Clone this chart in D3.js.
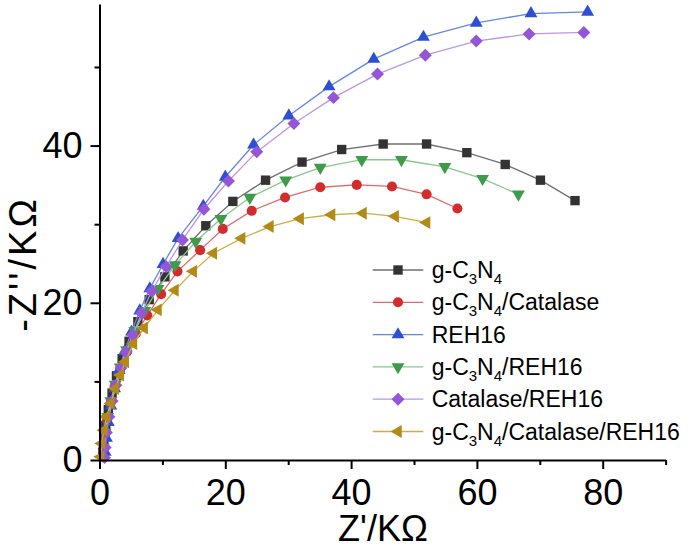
<!DOCTYPE html>
<html>
<head>
<meta charset="utf-8">
<script src="https://cdn.jsdelivr.net/npm/d3@7"></script>
<style>
  html, body { margin: 0; padding: 0; background: #fff; }
  svg { display: block; font-family: "Liberation Sans", Arial, sans-serif; }
</style>
</head>
<body>
<svg id="chart" width="692" height="549"></svg>
<script>
// ---- data ----
const seriesNames = ["g-C3N4", "g-C3N4/Catalase", "REH16", "g-C3N4/REH16", "Catalase/REH16", "g-C3N4/Catalase/REH16"];

const gc3n4X = [0.5, 0.7, 1.0, 1.4, 2.0, 2.7, 3.6, 4.7, 6.1, 7.9, 10.4, 13.3, 16.9, 21.2, 26.4, 32.2, 38.5, 45.1, 52.0, 58.4, 64.5, 70.1, 75.6];
const gc3n4Y = [1.0, 2.6, 4.4, 6.4, 8.5, 10.7, 12.9, 15.1, 17.6, 20.4, 23.3, 26.6, 29.8, 32.9, 35.6, 37.9, 39.5, 40.2, 40.2, 39.1, 37.6, 35.6, 33.0];

const catX = [0.6, 0.8, 1.2, 1.7, 2.4, 3.3, 4.4, 5.8, 7.6, 9.8, 12.4, 16.0, 19.6, 24.2, 29.5, 35.1, 40.9, 46.5, 52.0, 56.9];
const catY = [1.2, 3.0, 5.0, 7.1, 9.3, 11.5, 13.8, 16.1, 18.4, 21.1, 24.0, 26.7, 29.4, 31.7, 33.4, 34.7, 35.0, 34.8, 33.8, 32.0];

const rehX = [0.9, 1.1, 1.4, 1.8, 2.4, 3.1, 4.0, 5.1, 6.4, 8.0, 10.1, 12.5, 16.5, 20.0, 24.5, 30.1, 36.5, 43.6, 51.5, 59.9, 68.6, 77.6];
const rehY = [1.0, 2.8, 4.8, 6.9, 9.1, 11.4, 13.8, 16.3, 19.0, 21.8, 24.9, 28.2, 32.3, 36.0, 40.1, 43.8, 47.5, 51.0, 53.8, 55.6, 56.8, 57.0];

const gRehX = [0.6, 0.9, 1.3, 1.8, 2.5, 3.3, 4.3, 5.6, 7.2, 9.3, 12.0, 15.3, 19.3, 23.9, 29.6, 35.1, 41.7, 48.0, 54.9, 60.9, 66.6];
const gRehY = [1.6, 3.5, 5.5, 7.5, 9.6, 11.8, 14.0, 16.4, 19.0, 21.8, 24.8, 27.8, 30.7, 33.4, 35.6, 37.2, 38.2, 38.2, 37.3, 35.8, 33.8];

const catRehX = [0.8, 0.9, 1.1, 1.5, 2.0, 2.6, 3.4, 4.2, 5.3, 6.7, 8.3, 10.6, 13.2, 16.6, 20.5, 25.0, 30.9, 37.2, 44.2, 51.8, 59.9, 68.3, 77.0];
const catRehY = [0.3, 1.6, 3.5, 5.5, 7.5, 9.5, 11.7, 13.7, 15.9, 18.7, 21.5, 24.6, 28.0, 31.9, 35.5, 39.2, 42.8, 46.1, 49.1, 51.5, 53.3, 54.2, 54.4];

const allX = [0.2, 0.35, 0.7, 1.1, 1.8, 2.5, 3.3, 4.1, 5.4, 7.1, 9.3, 12.0, 14.9, 18.1, 22.6, 27.1, 31.9, 36.9, 41.9, 47.0, 52.0];
const allY = [0.4, 2.1, 3.8, 5.5, 7.2, 9.1, 10.8, 12.5, 14.8, 16.8, 19.1, 21.6, 24.0, 26.3, 28.2, 29.7, 30.7, 31.2, 31.4, 31.0, 30.2];

const xTicks = [0, 20, 40, 60, 80];
const xMinorTicks = [10, 30, 50, 70, 90];
const yTicks = [0, 20, 40];
const yMinorTicks = [10, 30, 50];

// ---- styles ----
const series = [
  { name: seriesNames[0], xs: gc3n4X, ys: gc3n4Y, marker: "square",  color: "#333333", line: "#707070" },
  { name: seriesNames[1], xs: catX,   ys: catY,   marker: "circle",  color: "#d12d2d", line: "#e06a6a" },
  { name: seriesNames[2], xs: rehX,   ys: rehY,   marker: "up",      color: "#2c4fd6", line: "#6486e6" },
  { name: seriesNames[3], xs: gRehX,  ys: gRehY,  marker: "down",    color: "#3f9b4a", line: "#86c98a" },
  { name: seriesNames[4], xs: catRehX,ys: catRehY,marker: "diamond", color: "#9456d6", line: "#bb97e8" },
  { name: seriesNames[5], xs: allX,   ys: allY,   marker: "left",    color: "#b38a16", line: "#cfad45" }
];

const svg = d3.select("#chart");
const x = d3.scaleLinear().domain([0, 90]).range([99.5, 665.6]);
const y = d3.scaleLinear().domain([0, 58]).range([460, 4.1]);

function markerPath(type) {
  switch (type) {
    case "square":  return { d: d3.symbol(d3.symbolSquare, 88)(), rot: 0 };
    case "circle":  return { d: d3.symbol(d3.symbolCircle, 80)(), rot: 0 };
    case "up":      return { d: d3.symbol(d3.symbolTriangle, 72)(), rot: 0 };
    case "down":    return { d: d3.symbol(d3.symbolTriangle, 72)(), rot: 180 };
    case "left":    return { d: d3.symbol(d3.symbolTriangle, 72)(), rot: -90 };
    case "diamond": return { d: d3.symbol(d3.symbolSquare, 84)(), rot: 45 };
  }
}

// ---- series ----
const line = d3.line().x(d => x(d[0])).y(d => y(d[1]));
series.forEach(s => {
  const pts = s.xs.map((v, i) => [v, s.ys[i]]);
  const g = svg.append("g");
  g.append("path").attr("d", line(pts)).attr("fill", "none")
    .attr("stroke", s.line).attr("stroke-width", 1.3);
  const m = markerPath(s.marker);
  g.selectAll("path.m").data(pts).enter().append("path").attr("class", "m")
    .attr("d", m.d)
    .attr("transform", d => `translate(${x(d[0])},${y(d[1])}) rotate(${m.rot})`)
    .attr("fill", s.color);
});

// ---- axes ----
const axisFont = 36;
svg.append("g").attr("transform", "translate(0,460)")
  .call(d3.axisBottom(x).tickValues(xTicks).tickSize(9).tickSizeOuter(0).tickPadding(10).tickFormat(d3.format("d")));
svg.append("g").attr("transform", "translate(0,460)")
  .call(d3.axisBottom(x).tickValues(xMinorTicks).tickSize(5).tickSizeOuter(0).tickFormat(""))
  .select(".domain").remove();
svg.append("g").attr("transform", "translate(99.5,0)")
  .call(d3.axisLeft(y).tickValues(yTicks).tickSize(9).tickSizeOuter(0).tickPadding(8).tickFormat(d3.format("d")));
svg.append("g").attr("transform", "translate(99.5,0)")
  .call(d3.axisLeft(y).tickValues(yMinorTicks).tickSize(5).tickSizeOuter(0).tickFormat(""))
  .select(".domain").remove();

svg.selectAll(".domain").attr("stroke", "#000").attr("stroke-width", 2);
svg.selectAll(".tick line").attr("stroke", "#000").attr("stroke-width", 2);
svg.selectAll(".tick text").attr("font-size", axisFont).attr("fill", "#000")
  .attr("font-family", "Liberation Sans, Arial, sans-serif");

// ---- axis titles ----
svg.append("text").attr("x", 383).attr("y", 541).attr("text-anchor", "middle")
  .attr("font-size", 36).attr("fill", "#000").text("Z'/KΩ");
svg.append("text").attr("transform", "translate(36,264) rotate(-90)").attr("text-anchor", "middle")
  .attr("font-size", 38).attr("letter-spacing", 3).attr("fill", "#000").text("-Z''/KΩ");

// ---- legend ----
const legend = svg.append("g");
const legY0 = 270, legDy = 32.3;
series.forEach((s, i) => {
  const cy = legY0 + i * legDy;
  legend.append("line").attr("x1", 372.7).attr("x2", 423.3).attr("y1", cy).attr("y2", cy)
    .attr("stroke", s.line).attr("stroke-width", 1.3);
  const m = markerPath(s.marker);
  legend.append("path").attr("d", m.d)
    .attr("transform", `translate(398,${cy}) rotate(${m.rot})`).attr("fill", s.color);
  const t = legend.append("text").attr("x", 431.7).attr("y", cy + 8).attr("font-size", 23).attr("fill", "#000");
  // build runs: [text, isSubscript]
  const runs = [];
  s.name.split(/(C3N4)/).forEach(p => {
    if (p === "C3N4") { runs.push(["C", false], ["3", true], ["N", false], ["4", true]); }
    else if (p.length) runs.push([p, false]);
  });
  let shifted = false;
  runs.forEach(([txt, sub]) => {
    const ts = t.append("tspan").text(txt);
    if (sub) { ts.attr("font-size", 15).attr("dy", shifted ? 0 : 6); shifted = true; }
    else if (shifted) { ts.attr("dy", -6); shifted = false; }
  });
});
</script>
</body>
</html>
